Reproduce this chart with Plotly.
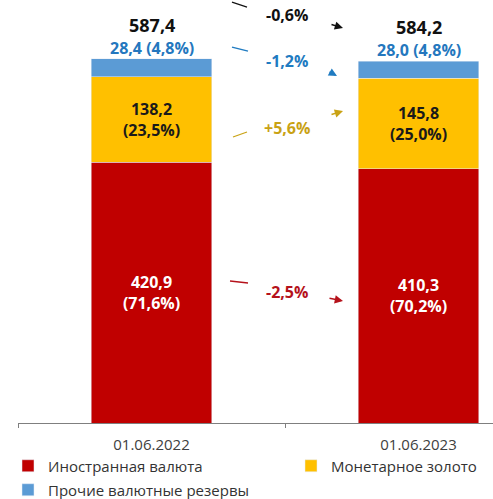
import plotly.graph_objects as go

# Reserve structure, bn USD
dates = ["01.06.2022", "01.06.2023"]
foreign_currency = [420.9, 410.3]
foreign_currency_pct = [71.6, 70.2]
monetary_gold = [138.2, 145.8]
monetary_gold_pct = [23.5, 25.0]
other_reserves = [28.4, 28.0]
other_reserves_pct = [4.8, 4.8]
totals = [587.4, 584.2]

# Year-over-year change per component
change_labels = ["-0,6%", "-1,2%", "+5,6%", "-2,5%"]

RED = "#C00000"
GOLD = "#FFC000"
BLUE = "#5B9BD5"
FONT = "Open Sans"


def fmt(v):
    return f"{v:.1f}".replace(".", ",")


fig = go.Figure()

fig.add_trace(go.Bar(
    x=dates, y=foreign_currency, customdata=foreign_currency_pct,
    name="Иностранная валюта", marker_color=RED, width=0.45,
    texttemplate="%{y:.1f}<br>(%{customdata:.1f}%)",
    textposition="inside", insidetextanchor="middle", textangle=0,
    textfont=dict(family=FONT, size=16, color="white", weight="bold"),
    legend="legend",
))
fig.add_trace(go.Bar(
    x=dates, y=monetary_gold, customdata=monetary_gold_pct,
    name="Монетарное золото", marker_color=GOLD, width=0.45,
    texttemplate="%{y:.1f}<br>(%{customdata:.1f}%)",
    textposition="inside", insidetextanchor="middle", textangle=0,
    textfont=dict(family=FONT, size=16, color="#1a1a1a", weight="bold"),
    legend="legend2",
))
fig.add_trace(go.Bar(
    x=dates, y=other_reserves,
    name="Прочие валютные резервы", marker_color=BLUE, width=0.45,
    legend="legend3",
))

# Labels above each stack: the thin top segment, then the stack total
for d, t, v, p in zip(dates, totals, other_reserves, other_reserves_pct):
    fig.add_annotation(
        x=d, y=t, text=f"{fmt(v)} ({fmt(p)}%)", showarrow=False,
        yanchor="middle", yshift=11, borderpad=0,
        font=dict(family=FONT, size=16, color="#2477BE", weight="bold"),
    )
    fig.add_annotation(
        x=d, y=t, text=fmt(t), showarrow=False,
        yanchor="middle", yshift=34, borderpad=0,
        font=dict(family=FONT, size=18, color="#111111", weight="bold"),
    )

# Change arrows between the two dates: (tail x0,y0,x1,y1), (head x0,y0,x1,y1), label pos, colour
px_per_unit = 0.6197
def ydata(py):
    return (423 - py) / px_per_unit
def xdata(px):
    return (px - 18) / 267 - 0.5

arrows = [
    ((232, 2, 247, 7), (330, 24, 343, 28), (287, 15), "#111111"),
    ((232, 47, 248, 51), (328, 71, 337, 76), (287, 61), "#1F7BC1"),
    ((233, 137, 247, 132), (330, 115, 343, 111), (287, 128), "#C9A214"),
    ((230, 281, 248, 283), (328, 298, 343, 301), (287, 292), "#B5121B"),
]
for label, (tail, head, pos, col) in zip(change_labels, arrows):
    fig.add_shape(
        type="line", xref="x", yref="y",
        x0=xdata(tail[0]), y0=ydata(tail[1]), x1=xdata(tail[2]), y1=ydata(tail[3]),
        line=dict(color=col, width=1.3),
    )
    fig.add_annotation(
        x=xdata(head[2]), y=ydata(head[3]), ax=xdata(head[0]), ay=ydata(head[1]),
        xref="x", yref="y", axref="x", ayref="y", text="",
        showarrow=True, arrowhead=2, arrowsize=1.1, arrowwidth=1.5, arrowcolor=col,
    )
    fig.add_annotation(
        x=xdata(pos[0]), y=ydata(pos[1]), text=label, showarrow=False,
        font=dict(family=FONT, size=16, color=col, weight="bold"),
    )

legend_common = dict(
    orientation="h", xanchor="left", yanchor="middle",
    font=dict(family=FONT, size=15, color="#333333"),
    bgcolor="rgba(0,0,0,0)", itemclick=False, itemdoubleclick=False,
)
fig.update_layout(
    width=493, height=499,
    margin=dict(l=18, r=0, t=0, b=76, autoexpand=False),
    paper_bgcolor="white", plot_bgcolor="white",
    barmode="stack", separators=", ",
    showlegend=True,
    legend=dict(x=(8 - 18) / 475, y=-(466 - 423) / 423, **legend_common),
    legend2=dict(x=(291 - 18) / 475, y=-(466 - 423) / 423, **legend_common),
    legend3=dict(x=(8 - 18) / 475, y=-(490 - 423) / 423, **legend_common),
    xaxis=dict(
        type="category", range=[-0.5, 1.279], tickson="boundaries",
        showline=True, linecolor="#7f7f7f", linewidth=1,
        ticks="outside", ticklen=4, tickcolor="#7f7f7f", ticklabelstandoff=8,
        tickfont=dict(family=FONT, size=15, color="#404040"),
        showgrid=False, fixedrange=True,
    ),
    yaxis=dict(range=[0, 682.6], visible=False, showgrid=False, fixedrange=True),
)

fig.write_html("out.html")
